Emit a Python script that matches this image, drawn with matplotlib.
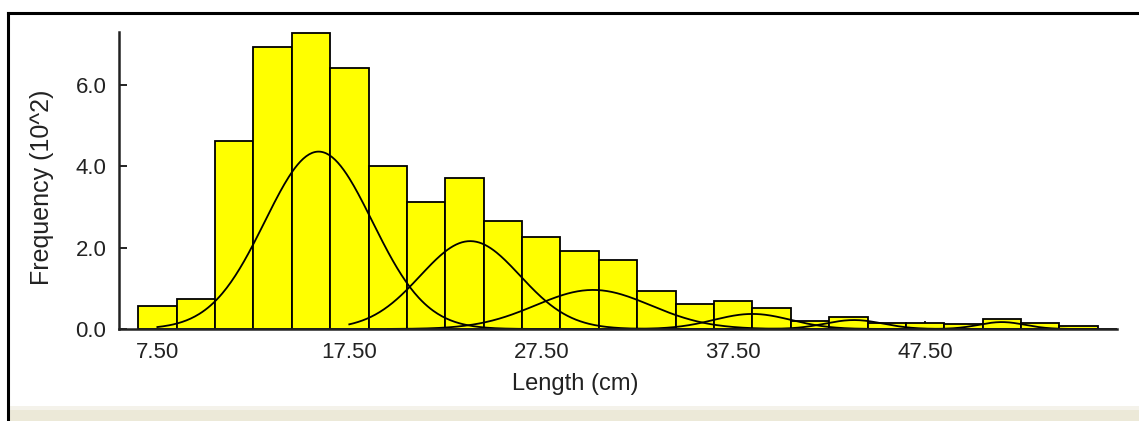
"""Length-frequency histogram with fitted normal components (FiSAT-style)."""
import matplotlib
matplotlib.use("Agg")
import matplotlib.pyplot as plt
import numpy as np
from matplotlib.lines import Line2D
from matplotlib.patches import Rectangle

# length classes (cm, class mid-points) and frequencies (x 10^2)
length_mid = [7.5, 9.5, 11.5, 13.5, 15.5, 17.5, 19.5, 21.5, 23.5, 25.5,
              27.5, 29.5, 31.5, 33.5, 35.5, 37.5, 39.5, 41.5, 43.5, 45.5,
              47.5, 49.5, 51.5, 53.5, 55.5]
frequency = [0.56, 0.73, 4.62, 6.93, 7.28, 6.42, 4.01, 3.12, 3.72, 2.66,
             2.25, 1.92, 1.70, 0.94, 0.61, 0.69, 0.51, 0.20, 0.30, 0.15,
             0.15, 0.12, 0.24, 0.14, 0.08]

# separated normal components: mean, s.d., peak height, drawn range
comp_mean = [15.9, 23.8, 30.2, 38.5, 43.8, 51.5]
comp_sd = [2.8, 2.6, 3.0, 2.0, 1.5, 1.2]
comp_peak = [4.36, 2.16, 0.96, 0.37, 0.22, 0.17]
comp_from = [7.5, 17.5, 19.5, 27.5, 35.0, 43.0]
comp_to = [30.0, 40.0, 45.0, 50.0, 55.0, 57.5]

tick_pos = [7.5, 17.5, 27.5, 37.5, 47.5]
tick_lab = ["7.50", "17.50", "27.50", "37.50", "47.50"]
ytick_pos = [0, 2, 4, 6]
ytick_lab = ["0.0", "2.0", "4.0", "6.0"]

W, H = 1139, 421
plt.rcParams["font.family"] = ["Liberation Sans", "DejaVu Sans"]
fig = plt.figure(figsize=(W / 100, H / 100), dpi=100)
fig.patch.set_facecolor("white")

# window chrome: black frame top/left, beige strip at the bottom
fig.add_artist(Rectangle((8 / W, 0), 1, 11 / H, transform=fig.transFigure,
                         facecolor="#ece9d8", edgecolor="none"))
fig.add_artist(Rectangle((8 / W, 11 / H), 1, 4 / H, transform=fig.transFigure,
                         facecolor="#f4f2ea", edgecolor="none"))
fig.add_artist(Line2D([7.5 / W, 1], [1 - 13 / H, 1 - 13 / H],
                      transform=fig.transFigure, color="black", lw=2.2))
fig.add_artist(Line2D([7.5 / W, 7.5 / W], [0, 1 - 13 / H],
                      transform=fig.transFigure, color="black", lw=2.2))

ax = fig.add_axes([119 / W, 1 - 329 / H, (1117 - 119) / W, (329 - 32) / H])
ax.set_xlim(5.5, 57.5)
ax.set_ylim(0, 7.30)

ax.bar(length_mid, frequency, width=2.0, color="#ffff00",
       edgecolor="black", linewidth=1.3, zorder=2)

for m, s, p, a, b in zip(comp_mean, comp_sd, comp_peak, comp_from, comp_to):
    x = np.linspace(a, b, 300)
    ax.plot(x, p * np.exp(-0.5 * ((x - m) / s) ** 2), color="black",
            lw=1.3, zorder=3)

for side in ("top", "right"):
    ax.spines[side].set_visible(False)
for side in ("left", "bottom"):
    ax.spines[side].set_linewidth(1.8)
    ax.spines[side].set_color("#222222")
    ax.spines[side].set_zorder(4)

ax.set_xticks(tick_pos)
ax.set_xticklabels(tick_lab)
ax.set_yticks(ytick_pos)
ax.set_yticklabels(ytick_lab)
ax.tick_params(direction="in", length=6, width=1.4, colors="#222222",
               labelsize=16, pad=9)
ax.tick_params(axis="y", pad=9)

ax.set_xlabel("Length (cm)", fontsize=17, color="#222222")
ax.set_ylabel("Frequency (10^2)", fontsize=18, color="#222222")
ax.xaxis.set_label_coords(0.457, -0.185)
ax.xaxis.label.set_va("center")
ax.yaxis.set_label_coords(-0.077, 0.476)
ax.yaxis.label.set_va("center")

fig.savefig("out.png", dpi=100)
